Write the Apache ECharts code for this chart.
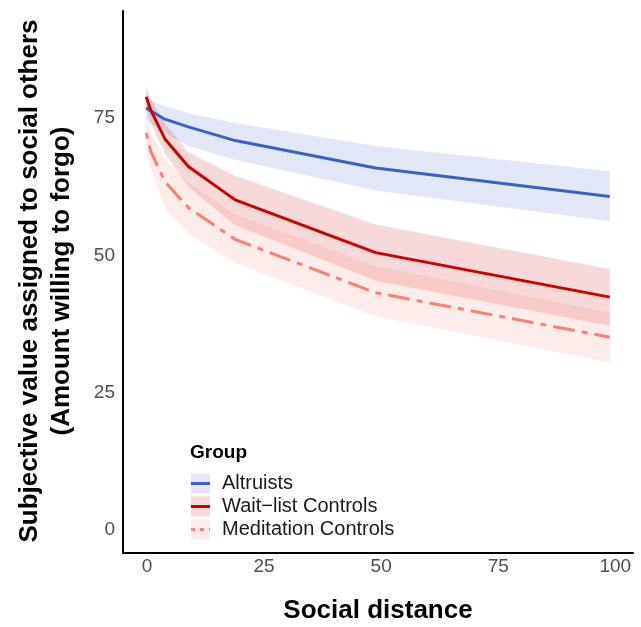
<!DOCTYPE html>
<html lang="en">
  <head>
    <meta charset="utf-8" />
    <title>Social discounting by group</title>
    <style>
      html, body { margin: 0; padding: 0; background: #fff; }
      #chart-container { width: 641px; height: 627px; }
    </style>
  </head>
  <body>
    <div id="chart-container"></div>
    <script src="https://cdn.jsdelivr.net/npm/echarts@6/dist/echarts.min.js"></script>
    <script>
      // social distance (x) and the three groups: mean line + ribbon bounds
      var distance = [1, 2, 5, 10, 20, 50, 100];

      var altruistMean = [76.9, 76.3, 74.8, 73.4, 70.9, 65.9, 60.7];
      var altruistLow = [74.7, 74.0, 72.3, 69.9, 67.4, 61.8, 56.2];
      var altruistHigh = [78.6, 78.2, 77.2, 75.9, 74.1, 69.9, 65.3];

      var waitMean = [78.9, 76.4, 71.2, 66.2, 60.1, 50.5, 42.4];
      var waitLow = [76.8, 74.0, 68.5, 62.5, 55.5, 45.4, 37.2];
      var waitHigh = [80.5, 78.5, 74.0, 68.8, 64.5, 55.6, 47.5];

      var medMean = [72.3, 68.9, 63.4, 58.7, 52.9, 43.2, 35.1];
      var medLow = [69.2, 65.9, 58.6, 54.0, 48.6, 38.9, 30.5];
      var medHigh = [74.8, 72.5, 67.5, 63.3, 57.5, 48.0, 39.6];

      var groupNames = ["Altruists", "Wait\u2212list Controls", "Meditation Controls"];
      var xTicks = [0, 25, 50, 75, 100];
      var yTicks = [0, 25, 50, 75];

      var groups = [
        { name: groupNames[0], mean: altruistMean, low: altruistLow, high: altruistHigh,
          line: "#3A5FCD", fill: "rgba(58,95,205,0.15)", dash: "solid" },
        { name: groupNames[1], mean: waitMean, low: waitLow, high: waitHigh,
          line: "#CD0000", fill: "rgba(205,0,0,0.15)", dash: "solid" },
        { name: groupNames[2], mean: medMean, low: medLow, high: medHigh,
          line: "#FA8072", fill: "rgba(250,128,114,0.15)", dash: [6, 7, 22, 7] }
      ];

      function pairs(ys) {
        return distance.map(function (d, i) { return [d, ys[i]]; });
      }

      var series = [];
      // ribbons as one polygon per group, through the axis scales
      groups.forEach(function (g) {
        series.push({
          type: "custom", silent: true, clip: true, z: 1,
          data: pairs(g.high),
          renderItem: function (params, api) {
            if (params.dataIndex !== 0) return;
            var pts = [];
            distance.forEach(function (d, i) { pts.push(api.coord([d, g.high[i]])); });
            for (var i = distance.length - 1; i >= 0; i--) pts.push(api.coord([distance[i], g.low[i]]));
            return { type: "polygon", shape: { points: pts }, style: { fill: g.fill } };
          }
        });
      });
      groups.forEach(function (g) {
        series.push({
          type: "line", name: g.name, symbol: "none", silent: true,
          lineStyle: { color: g.line, width: 3, type: g.dash, cap: "butt" },
          data: pairs(g.mean), z: 3
        });
      });

      // legend drawn ggplot-style: filled key box with line + label
      var graphics = [{
        type: "text", left: 190, top: 443,
        style: { text: "Group", font: "bold 19px 'Liberation Sans'", fill: "#000" }
      }];
      groups.forEach(function (g, k) {
        var cy = 483.5 + k * 23;
        graphics.push({
          type: "rect", shape: { x: 191, y: cy - 10, width: 19, height: 20 },
          style: { fill: g.fill }
        });
        graphics.push({
          type: "line", shape: { x1: 191, y1: cy, x2: 210, y2: cy },
          style: { stroke: g.line, lineWidth: 3, lineDash: g.dash === "solid" ? null : [4, 5] }
        });
        graphics.push({
          type: "text", x: 222, y: cy,
          style: { text: g.name, font: "20px 'Liberation Sans'", fill: "#1A1A1A",
                   textAlign: "left", textVerticalAlign: "middle" }
        });
      });
      graphics.push({
        type: "text", x: 30, y: 281, rotation: Math.PI / 2,
        style: { text: "Subjective value assigned to social others", font: "bold 26px 'Liberation Sans'",
                 fill: "#000", textAlign: "center", textVerticalAlign: "middle" }
      });
      graphics.push({
        type: "text", x: 62, y: 281, rotation: Math.PI / 2,
        style: { text: "(Amount willing to forgo)", font: "bold 26px 'Liberation Sans'",
                 fill: "#000", textAlign: "center", textVerticalAlign: "middle" }
      });

      var myChart = echarts.init(document.getElementById("chart-container"), null, { renderer: "canvas" });
      var option = {
        animation: false,
        backgroundColor: "#fff",
        grid: { left: 123, right: 8, top: 11, bottom: 74, outerBoundsMode: "none" },
        xAxis: {
          type: "value", min: -3.95, max: 104.95,
          name: "Social distance", nameLocation: "middle", nameGap: 45,
          nameTextStyle: { fontFamily: "Liberation Sans", fontWeight: "bold", fontSize: 26, color: "#000" },
          axisLine: { show: true, onZero: false, lineStyle: { color: "#000", width: 2 } },
          axisTick: { show: false },
          splitLine: { show: false },
          axisLabel: {
            customValues: xTicks, margin: 4, padding: [0, 0, 0, 11],
            fontFamily: "Liberation Sans", fontSize: 19, color: "#4D4D4D"
          }
        },
        yAxis: {
          type: "value", min: -4.2, max: 94.5,
          axisLine: { show: true, onZero: false, lineStyle: { color: "#000", width: 2 } },
          axisTick: { show: false },
          splitLine: { show: false },
          axisLabel: {
            customValues: yTicks, margin: 8,
            fontFamily: "Liberation Sans", fontSize: 19, color: "#4D4D4D"
          }
        },
        graphic: graphics,
        series: series
      };
      myChart.setOption(option);
      window.addEventListener("resize", myChart.resize);
    </script>
  </body>
</html>
